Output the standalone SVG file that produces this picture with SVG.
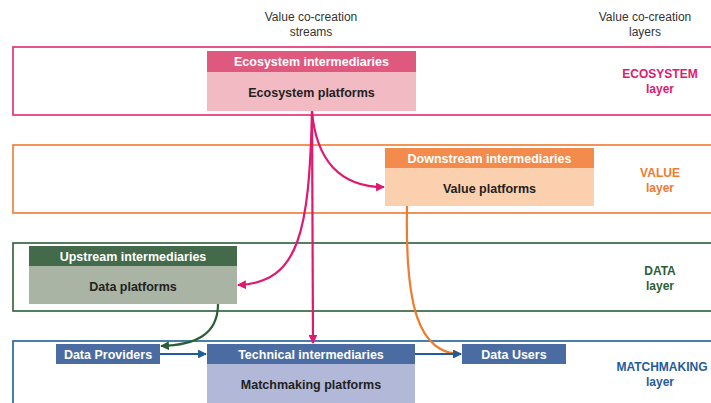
<svg xmlns="http://www.w3.org/2000/svg" width="711" height="403" viewBox="0 0 711 403">
  <defs>
    <style>
      text { font-family: "Liberation Sans", Arial, sans-serif; text-anchor: middle; }
      .hdr { font-size: 12px; fill: #333; }
      .lyr { font-size: 12px; font-weight: bold; }
      .head { font-size: 12.5px; font-weight: bold; fill: #fff; }
      .body { font-size: 12.5px; font-weight: bold; fill: #222; }
      .band { fill: #fff; stroke-width: 1.6; }
      .conn { fill: none; stroke-width: 2.2; }
    </style>
    <marker id="ah-pink" viewBox="0 0 10 10" refX="9" refY="5" markerWidth="4" markerHeight="4" orient="auto" markerUnits="strokeWidth">
      <path d="M0,0 L10,5 L0,10 z" fill="#e0186f"/>
    </marker>
    <marker id="ah-orange" viewBox="0 0 10 10" refX="9" refY="5" markerWidth="4" markerHeight="4" orient="auto" markerUnits="strokeWidth">
      <path d="M0,0 L10,5 L0,10 z" fill="#f07a2e"/>
    </marker>
    <marker id="ah-green" viewBox="0 0 10 10" refX="9" refY="5" markerWidth="4" markerHeight="4" orient="auto" markerUnits="strokeWidth">
      <path d="M0,0 L10,5 L0,10 z" fill="#2c5e36"/>
    </marker>
    <marker id="ah-blue" viewBox="0 0 10 10" refX="9" refY="5" markerWidth="4" markerHeight="4" orient="auto" markerUnits="strokeWidth">
      <path d="M0,0 L10,5 L0,10 z" fill="#1f5c99"/>
    </marker>
  </defs>

  <rect width="711" height="403" fill="#fff"/>

  <!-- column headings -->
  <text class="hdr" x="311" y="21">Value co-creation</text>
  <text class="hdr" x="311" y="36">streams</text>
  <text class="hdr" x="645" y="21">Value co-creation</text>
  <text class="hdr" x="645" y="36">layers</text>

  <!-- layer bands -->
  <g id="layer-ecosystem">
    <rect class="band" x="13" y="47" width="710" height="68" stroke="#e2286f"/>
    <text class="lyr" x="660" y="78" fill="#e0196e">ECOSYSTEM</text>
    <text class="lyr" x="660" y="93" fill="#e0196e">layer</text>
  </g>
  <g id="layer-value">
    <rect class="band" x="13" y="145" width="710" height="68" stroke="#f07a2e"/>
    <text class="lyr" x="660" y="177" fill="#f07a2e">VALUE</text>
    <text class="lyr" x="660" y="192" fill="#f07a2e">layer</text>
  </g>
  <g id="layer-data">
    <rect class="band" x="13" y="243" width="710" height="68" stroke="#2c5e36"/>
    <text class="lyr" x="660" y="275" fill="#2c5e36">DATA</text>
    <text class="lyr" x="660" y="290" fill="#2c5e36">layer</text>
  </g>
  <g id="layer-matchmaking">
    <rect class="band" x="13" y="341" width="710" height="80" stroke="#1f5c99"/>
    <text class="lyr" x="662" y="371" fill="#1f5c99">MATCHMAKING</text>
    <text class="lyr" x="660" y="386" fill="#1f5c99">layer</text>
  </g>

  <!-- nodes -->
  <g id="ecosystem-platforms">
    <rect x="207" y="51" width="209" height="21" fill="#df587d"/>
    <rect x="207" y="72" width="209" height="39" fill="#f2bac3"/>
    <text class="head" x="311.5" y="66">Ecosystem intermediaries</text>
    <text class="body" x="311.5" y="97">Ecosystem platforms</text>
  </g>
  <g id="value-platforms">
    <rect x="385" y="148" width="209" height="20" fill="#f28b4b"/>
    <rect x="385" y="168" width="209" height="38" fill="#fbd0ae"/>
    <text class="head" x="489.5" y="163">Downstream intermediaries</text>
    <text class="body" x="489.5" y="193">Value platforms</text>
  </g>
  <g id="data-platforms">
    <rect x="29" y="246" width="208" height="20" fill="#436a4a"/>
    <rect x="29" y="266" width="208" height="38" fill="#a9b4a4"/>
    <text class="head" x="133" y="261">Upstream intermediaries</text>
    <text class="body" x="133" y="291">Data platforms</text>
  </g>
  <g id="data-providers">
    <rect x="56" y="344" width="104" height="20" fill="#4a6ca2"/>
    <text class="head" x="108" y="359">Data Providers</text>
  </g>
  <g id="matchmaking-platforms">
    <rect x="207" y="344" width="208" height="20" fill="#4a6ca2"/>
    <rect x="207" y="364" width="208" height="39" fill="#b1b8d8"/>
    <text class="head" x="311" y="359">Technical intermediaries</text>
    <text class="body" x="311" y="389">Matchmaking platforms</text>
  </g>
  <g id="data-users">
    <rect x="462" y="344" width="104" height="20" fill="#4a6ca2"/>
    <text class="head" x="514" y="359">Data Users</text>
  </g>

  <!-- connectors -->
  <g id="connectors">
    <path class="conn" stroke="#e0186f" d="M312,111 L313,343" marker-end="url(#ah-pink)"/>
    <path class="conn" stroke="#e0186f" d="M312,111 C316,160 340,187 384,187" marker-end="url(#ah-pink)"/>
    <path class="conn" stroke="#e0186f" d="M312,112 C309,230 300,283 238,285" marker-end="url(#ah-pink)"/>
    <path class="conn" stroke="#f07a2e" d="M407,206 C405,305 418,354 461,354" marker-end="url(#ah-orange)"/>
    <path class="conn" stroke="#2c5e36" d="M218,304 C218,335 195,345 161,346" marker-end="url(#ah-green)"/>
    <path class="conn" stroke="#1f5c99" d="M160,354 L206,354" marker-end="url(#ah-blue)"/>
    <path class="conn" stroke="#1f5c99" d="M415,354 L461,354" marker-end="url(#ah-blue)"/>
  </g>
</svg>
